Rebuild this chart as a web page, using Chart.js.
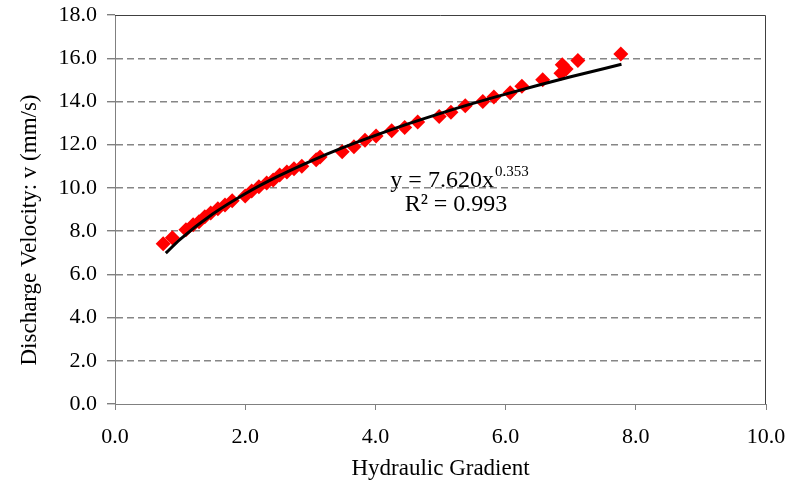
<!DOCTYPE html>
<html>
<head>
<meta charset="utf-8">
<script src="https://cdn.jsdelivr.net/npm/chart.js@4.4.0/dist/chart.umd.min.js"></script>
<style>
  html, body { margin: 0; padding: 0; background: #fff; }
  #wrap { width: 802px; height: 487px; }
</style>
</head>
<body>
<div id="wrap"><canvas id="flow_chart"></canvas></div>
<script>
// measured points
const gradient = [0.74, 0.88, 1.09, 1.20, 1.29, 1.38, 1.47, 1.58, 1.69, 1.80,
  2.00, 2.10, 2.21, 2.33, 2.43, 2.53, 2.64, 2.75, 2.87, 3.09, 3.15,
  3.49, 3.67, 3.84, 4.01, 4.25, 4.45, 4.65, 4.98, 5.16, 5.38,
  5.65, 5.82, 6.07, 6.25, 6.57, 6.85, 6.87, 6.93, 7.11, 7.77]
const velocity = [7.41, 7.69, 8.06, 8.29, 8.43, 8.66, 8.84, 9.03, 9.21, 9.40,
  9.63, 9.86, 10.05, 10.23, 10.37, 10.60, 10.74, 10.88, 11.00, 11.30, 11.43,
  11.67, 11.90, 12.20, 12.40, 12.64, 12.80, 13.05, 13.30, 13.50, 13.80,
  14.00, 14.20, 14.40, 14.70, 15.00, 15.30, 15.70, 15.50, 15.90, 16.20]

// power trendline
const trendX = [0.78, 1.0, 1.5, 2.0, 2.5, 3.0, 3.5, 4.0, 4.5, 5.0, 5.5, 6.0, 6.5, 7.0, 7.78]
const trendY = [6.98, 7.62, 8.79, 9.73, 10.53, 11.23, 11.86, 12.43, 12.96, 13.45, 13.91, 14.34, 14.75, 15.14, 15.72]

const xTicks = [0, 2, 4, 6, 8, 10]
const yTicks = [0, 2, 4, 6, 8, 10, 12, 14, 16, 18]

const serif = 'Liberation Serif'

const pts = gradient.map((g, i) => ({ x: g, y: velocity[i] }))
const trend = trendX.map((g, i) => ({ x: g, y: trendY[i] }))

// box around the plot, y title and the equation text
const extras = {
  id: 'extras',
  afterDraw(chart) {
    const ctx = chart.ctx
    const a = chart.chartArea
    ctx.save()
    ctx.strokeStyle = '#404040'
    ctx.lineWidth = 1
    ctx.beginPath()
    ctx.moveTo(a.left, a.top + 0.5)
    ctx.lineTo(a.right - 0.5, a.top + 0.5)
    ctx.lineTo(a.right - 0.5, a.bottom)
    ctx.stroke()

    ctx.fillStyle = '#000'
    // y axis title
    ctx.save()
    ctx.translate(30, 230)
    ctx.rotate(-Math.PI / 2)
    ctx.textAlign = 'center'
    ctx.textBaseline = 'middle'
    ctx.font = '23px "' + serif + '"'
    ctx.fillText('Discharge Velocity: v (mm/s)', 0, 0)
    ctx.restore()

    ctx.textBaseline = 'alphabetic'
    const cx = 459
    const main = 'y = 7.620x'
    const sup = '0.353'
    ctx.font = '15px "' + serif + '"'
    const wSup = ctx.measureText(sup).width
    ctx.font = '24px "' + serif + '"'
    const wMain = ctx.measureText(main).width
    const sx = cx - (wMain + wSup) / 2
    ctx.textAlign = 'left'
    ctx.fillText(main, sx, 187)
    ctx.font = '15px "' + serif + '"'
    ctx.fillText(sup, sx + wMain + 1, 176)
    ctx.font = '24px "' + serif + '"'
    ctx.textAlign = 'center'
    ctx.fillText('R² = 0.993', 456, 211)
    ctx.restore()
  }
}

const myChart = new Chart(document.getElementById('flow_chart'), {
  type: 'scatter',
  data: {
    datasets: [
      {
        label: 'Power fit',
        data: trend,
        showLine: true,
        borderColor: '#000',
        borderWidth: 3,
        pointRadius: 0,
        cubicInterpolationMode: 'monotone'
      },
      {
        label: 'Measured',
        data: pts,
        pointStyle: 'rectRot',
        pointRadius: 7.5,
        backgroundColor: '#ff0000',
        borderColor: '#ff0000',
        borderWidth: 0
      }
    ]
  },
  options: {
    responsive: true,
    maintainAspectRatio: false,
    animation: false,
    layout: { padding: { left: 0, right: 36, top: 15, bottom: 0 } },
    plugins: { legend: { display: false }, tooltip: { enabled: false } },
    scales: {
      x: {
        type: 'linear',
        min: 0, max: 10,
        afterBuildTicks: s => { s.ticks = xTicks.map(v => ({ value: v })) },
        afterFit: s => { s.height = 83; s.paddingRight = 0 },
        ticks: {
          color: '#000',
          font: { family: serif, size: 22 },
          padding: 14,
          callback: v => v.toFixed(1)
        },
        grid: { drawOnChartArea: false, drawTicks: true, tickLength: 6, color: '#808080' },
        border: { color: '#808080', width: 1 },
        title: {
          display: true,
          text: 'Hydraulic Gradient',
          color: '#000',
          font: { family: serif, size: 23 },
          padding: { top: 0, bottom: 4 }
        }
      },
      y: {
        type: 'linear',
        min: 0, max: 18,
        afterBuildTicks: s => { s.ticks = yTicks.map(v => ({ value: v })) },
        afterFit: s => { s.width = 115; s.paddingTop = 0; s.paddingBottom = 0 },
        ticks: {
          color: '#000',
          font: { family: serif, size: 22 },
          padding: 10,
          callback: v => v.toFixed(1)
        },
        grid: {
          color: c => (c.tick && (c.tick.value === 0 || c.tick.value === 18)) ? 'rgba(0,0,0,0)' : '#868686',
          tickColor: '#808080',
          lineWidth: 1.4,
          tickBorderDash: [],
          tickLength: 8
        },
        border: { color: '#808080', width: 1, dash: [7, 4] }
      }
    }
  },
  plugins: [extras]
})
</script>
</body>
</html>
